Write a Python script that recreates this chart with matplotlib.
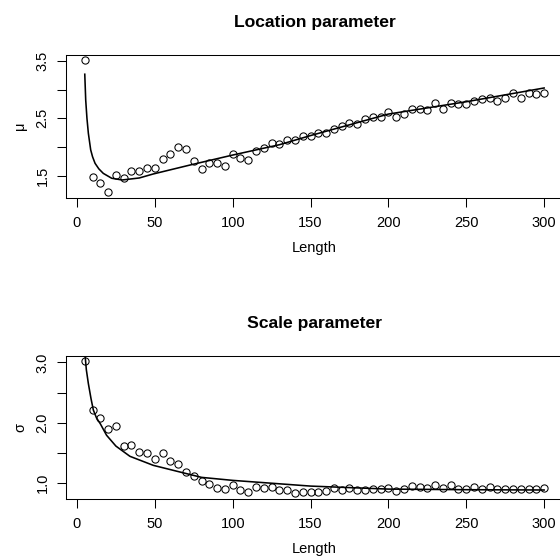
import numpy as np
import matplotlib
matplotlib.use('Agg')
import matplotlib.pyplot as plt

plt.rcParams['font.family'] = ['Liberation Sans', 'DejaVu Sans']

# sample lengths
lengths = list(range(5, 305, 5))

# estimated location parameter per length
mu_est = [3.52, 1.47, 1.37, 1.21, 1.51, 1.465, 1.587, 1.587, 1.63, 1.635,
          1.785, 1.878, 2.0, 1.963, 1.756, 1.617, 1.723, 1.723, 1.67, 1.88,
          1.81, 1.782, 1.935, 1.985, 2.075, 2.05, 2.13, 2.122, 2.19, 2.193,
          2.25, 2.253, 2.322, 2.368, 2.425, 2.395, 2.49, 2.53, 2.53, 2.615,
          2.53, 2.575, 2.657, 2.657, 2.645, 2.76, 2.67, 2.76, 2.75, 2.75,
          2.80, 2.83, 2.85, 2.81, 2.85, 2.945, 2.86, 2.945, 2.93, 2.935]

# estimated scale parameter per length
sigma_est = [3.025, 2.207, 2.07, 1.89, 1.947, 1.61, 1.627, 1.513, 1.503, 1.392,
             1.49, 1.358, 1.305, 1.171, 1.108, 1.022, 0.972, 0.905, 0.895, 0.96,
             0.882, 0.85, 0.928, 0.912, 0.934, 0.879, 0.875, 0.825, 0.847, 0.847,
             0.84, 0.862, 0.915, 0.875, 0.915, 0.873, 0.88, 0.895, 0.898, 0.915,
             0.858, 0.89, 0.947, 0.928, 0.905, 0.97, 0.905, 0.958, 0.90, 0.90,
             0.934, 0.897, 0.934, 0.897, 0.90, 0.90, 0.895, 0.895, 0.90, 0.917]

# fitted curves
mu_fit_x = [5, 5.6, 6.4, 7.3, 8.8, 10, 11.6, 14, 16.9, 22.3, 29, 40, 49,
            72.6, 100, 130, 150, 200, 250, 300]
mu_fit_y = [3.27, 2.82, 2.5, 2.24, 1.95, 1.83, 1.716, 1.62, 1.54, 1.455,
            1.425, 1.46, 1.53, 1.686, 1.86, 2.04, 2.2, 2.575, 2.79, 3.03]

sigma_fit_x = [5, 6, 7.3, 9, 10.5, 12.5, 15, 19, 25, 34, 49, 66, 80, 100,
               150, 200, 250, 300]
sigma_fit_y = [3.18, 2.88, 2.65, 2.4, 2.21, 2.08, 1.98, 1.79, 1.61, 1.44,
               1.29, 1.18, 1.09, 1.04, 0.945, 0.895, 0.885, 0.88]


def r_lim(vals):
    """R style axis range: data range plus 4% each side"""
    lo, hi = min(vals), max(vals)
    d = 0.04 * (hi - lo)
    return lo - d, hi + d


def panel(ax, x, y, fx, fy, title, ylabel, yticks, ylabels):
    ax.plot(x, y, 'o', mfc='none', mec='black', ms=5.2, mew=0.75)
    ax.plot(fx, fy, '-', color='black', lw=1.15, scalex=False, scaley=False)
    ax.set_xlim(r_lim(x))
    ax.set_ylim(r_lim(y))
    ax.set_xticks([0, 50, 100, 150, 200, 250, 300])
    ax.set_yticks(yticks)
    ax.set_yticklabels(ylabels)
    for sp in ax.spines.values():
        sp.set_linewidth(0.75)
    ax.tick_params(length=6.2, width=0.75, labelsize=10.5, direction='out')
    ax.tick_params(axis='x', pad=7)
    ax.tick_params(axis='y', labelrotation=90, pad=6)
    for lbl in ax.get_yticklabels():
        lbl.set_va('center')
    ax.set_title(title, fontsize=12.6, fontweight='bold', pad=20)
    ax.set_xlabel('Length', fontsize=10.5, labelpad=8)
    ax.set_ylabel(ylabel, fontsize=10.5, labelpad=6)


fig = plt.figure(figsize=(5.6, 5.59), dpi=100)
W, H = 560, 559
ax1 = fig.add_axes([66.4 / W, 1 - 197.6 / H, (562.5 - 66.4) / W, 143 / H])
ax2 = fig.add_axes([66.4 / W, 1 - 498.6 / H, (562.5 - 66.4) / W, 142.9 / H])

panel(ax1, lengths, mu_est, mu_fit_x, mu_fit_y, 'Location parameter', 'μ',
      [1.5, 2.0, 2.5, 3.0, 3.5], ['1.5', '', '2.5', '', '3.5'])
panel(ax2, lengths, sigma_est, sigma_fit_x, sigma_fit_y, 'Scale parameter', 'σ',
      [1.0, 1.5, 2.0, 2.5, 3.0], ['1.0', '', '2.0', '', '3.0'])

fig.savefig('out.png', dpi=100)
